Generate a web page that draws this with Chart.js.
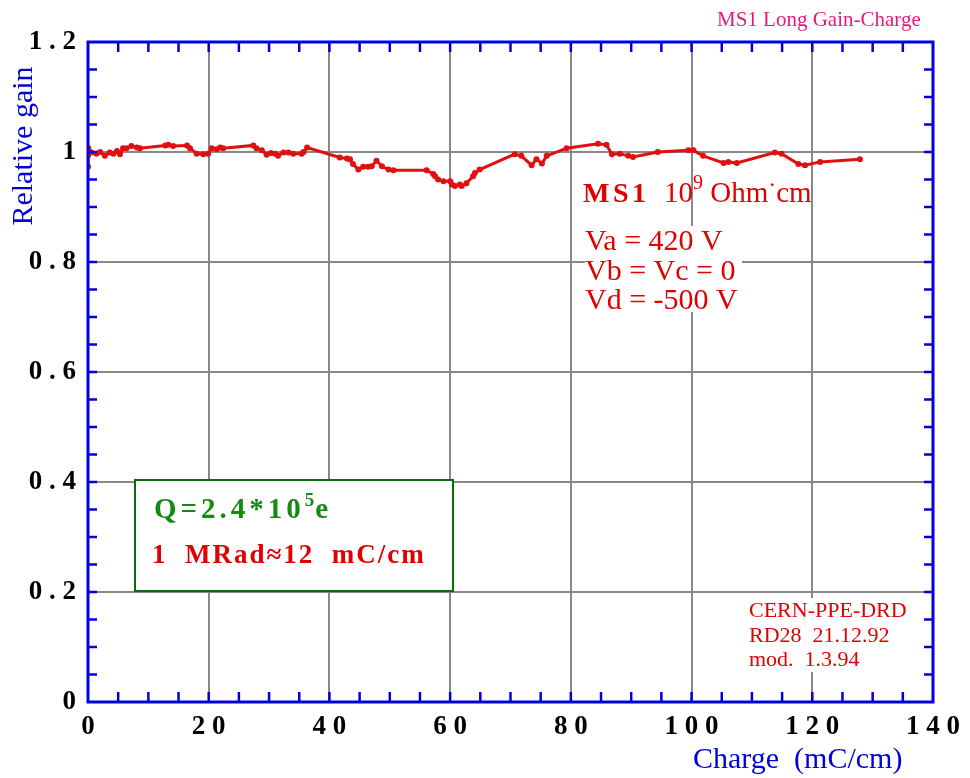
<!DOCTYPE html>
<html><head><meta charset="utf-8">
<script src="https://cdn.jsdelivr.net/npm/chart.js@4"></script>
<style>html,body{margin:0;padding:0;background:#fff}</style>
</head><body>
<canvas id="c" width="970" height="778"></canvas>
<script>
const charge = [0, 0, 0.05, 0.6, 1.4, 2.0, 2.8, 3.6, 4.2, 4.8, 5.3, 5.8, 6.4, 7.2, 8.1, 8.6, 12.8, 13.3, 14.1, 16.4, 16.9, 18.0, 19.1, 19.9, 20.5, 21.3, 21.9, 22.4, 27.4, 27.9, 28.8, 29.6, 30.3, 31.0, 31.5, 32.4, 33.2, 34.0, 35.4, 35.7, 36.3, 41.7, 42.9, 43.4, 43.9, 44.8, 45.6, 46.4, 47.0, 47.8, 48.7, 49.8, 50.6, 56.1, 57.2, 57.5, 58.0, 58.9, 60.0, 60.3, 60.8, 61.6, 61.9, 62.7, 63.8, 64.1, 64.9, 70.7, 71.8, 73.5, 74.3, 75.2, 76.0, 79.3, 84.5, 85.9, 86.8, 88.1, 89.5, 90.3, 94.4, 99.5, 100.3, 101.9, 105.3, 106.1, 107.5, 113.8, 114.9, 117.7, 118.8, 121.3, 127.9];
const gain = [0.973, 0.993, 1.007, 0.999, 0.997, 1.000, 0.993, 0.999, 0.997, 1.002, 0.996, 1.007, 1.007, 1.011, 1.008, 1.007, 1.012, 1.013, 1.011, 1.012, 1.007, 0.997, 0.996, 0.997, 1.007, 1.005, 1.008, 1.007, 1.012, 1.007, 1.003, 0.995, 0.998, 0.997, 0.993, 0.999, 0.999, 0.997, 0.997, 1.000, 1.008, 0.990, 0.988, 0.987, 0.978, 0.968, 0.973, 0.973, 0.974, 0.984, 0.974, 0.968, 0.967, 0.967, 0.960, 0.956, 0.950, 0.947, 0.947, 0.941, 0.938, 0.941, 0.938, 0.943, 0.956, 0.962, 0.968, 0.996, 0.993, 0.976, 0.987, 0.979, 0.993, 1.007, 1.015, 1.013, 0.996, 0.997, 0.993, 0.991, 1.000, 1.003, 1.003, 0.993, 0.980, 0.982, 0.980, 0.999, 0.997, 0.978, 0.976, 0.982, 0.987];
const xTickLabels = ["0", "2 0", "4 0", "6 0", "8 0", "1 0 0", "1 2 0", "1 4 0"];
const yTickLabels = ["0", "0 . 2", "0 . 4", "0 . 6", "0 . 8", "1", "1 . 2"];

const SERIF = '"Liberation Serif", "Times New Roman", serif';
const RED = '#e00000', BLUE = '#0000dd', GREEN = '#138a13';

function runs(ctx, x, y, parts) {
  for (const p of parts) {
    ctx.font = p[1];
    ctx.letterSpacing = (p[3] || 0) + 'px';
    ctx.fillText(p[0], x, y + (p[2] || 0));
    x += ctx.measureText(p[0]).width;
  }
  ctx.letterSpacing = '0px';
}

const decor = {
  id: 'decor',
  afterDraw(chart) {
    const ctx = chart.ctx, a = chart.chartArea;
    const xs = chart.scales.x, ys = chart.scales.y;
    ctx.save();
    ctx.textBaseline = 'alphabetic';
    ctx.textAlign = 'left';
    ctx.fillStyle = '#e8177f';
    ctx.font = '21px ' + SERIF;
    ctx.fillText('MS1 Long Gain-Charge', 717, 26);
    ctx.fillStyle = BLUE;
    ctx.font = '30px ' + SERIF;
    ctx.fillText('Charge  (mC/cm)', 693, 768);
    ctx.save();
    ctx.translate(32, 146);
    ctx.rotate(-Math.PI / 2);
    ctx.textAlign = 'center';
    ctx.fillText('Relative gain', 0, 0);
    ctx.restore();

    ctx.fillStyle = RED;
    runs(ctx, 583, 202, [['MS1', 'bold 28px ' + SERIF, 0, 3.5], ['  10', '29px ' + SERIF], ['9', '20px ' + SERIF, -13], [' Ohm', '29px ' + SERIF], ['\u00b7', '24px ' + SERIF, -10], ['cm', '29px ' + SERIF]]);
    ctx.fillStyle = '#fff';
    ctx.fillRect(585, 226, 157, 86);
    ctx.fillStyle = RED;
    ctx.font = '30px ' + SERIF;
    ctx.fillText('Va = 420 V', 585, 250);
    ctx.fillText('Vb = Vc = 0', 585, 280);
    ctx.fillText('Vd = -500 V', 585, 309);

    ctx.fillStyle = '#fff';
    ctx.fillRect(135, 480, 318, 111);
    ctx.strokeStyle = '#0d6b0d';
    ctx.lineWidth = 2;
    ctx.strokeRect(135, 480, 318, 111);
    ctx.fillStyle = GREEN;
    runs(ctx, 154, 518, [['Q=2.4*10', 'bold 29px ' + SERIF, 0, 4], ['5', 'bold 19px ' + SERIF, -12, 1], ['e', 'bold 29px ' + SERIF, 0, 2]]);
    ctx.fillStyle = RED;
    runs(ctx, 152, 563, [['1  MRad\u224812  mC/cm', 'bold 27px ' + SERIF, 0, 2]]);

    ctx.fillStyle = '#fff';
    ctx.fillRect(744, 598, 174, 74);
    ctx.fillStyle = RED;
    ctx.font = '22px ' + SERIF;
    ctx.fillText('CERN-PPE-DRD', 749, 617);
    ctx.fillText('RD28  21.12.92', 749, 642);
    ctx.fillText('mod.  1.3.94', 749, 666);

    ctx.strokeStyle = BLUE;
    ctx.lineWidth = 3;
    ctx.strokeRect(a.left, a.top, a.right - a.left, a.bottom - a.top);
    ctx.lineWidth = 2.5;
    ctx.beginPath();
    for (let v = 5; v < 140; v += 5) {
      const px = xs.getPixelForValue(v);
      ctx.moveTo(px, a.bottom); ctx.lineTo(px, a.bottom - 10);
      ctx.moveTo(px, a.top); ctx.lineTo(px, a.top + 10);
    }
    for (let i = 1; i < 24; i++) {
      const py = ys.getPixelForValue(i * 0.05);
      ctx.moveTo(a.left, py); ctx.lineTo(a.left + 9, py);
      ctx.moveTo(a.right, py); ctx.lineTo(a.right - 9, py);
    }
    ctx.stroke();
    ctx.restore();
  }
};

new Chart(document.getElementById('c'), {
  type: 'line',
  data: {
    datasets: [{
      data: charge.map((c, i) => ({ x: c, y: gain[i] })),
      borderColor: '#e01010',
      backgroundColor: '#e01010',
      borderWidth: 3,
      pointRadius: 3,
      pointBorderWidth: 0,
      pointBackgroundColor: '#e01010',
      tension: 0,
      fill: false
    }]
  },
  options: {
    responsive: false,
    animation: false,
    events: [],
    layout: { padding: { top: 42, right: 37, left: 0, bottom: 0 } },
    plugins: { legend: { display: false }, tooltip: { enabled: false } },
    scales: {
      x: {
        type: 'linear', min: 0, max: 140,
        afterFit(s) { s.height = 76; },
        grid: { color: '#888', lineWidth: 2, drawTicks: false },
        border: { display: false },
        ticks: {
          stepSize: 20, padding: 9, color: '#000', maxRotation: 0,
          font: { family: SERIF, weight: 'bold', size: 27 },
          callback: (v, i) => xTickLabels[i]
        }
      },
      y: {
        type: 'linear', min: 0, max: 1.2,
        afterFit(s) { s.width = 88; },
        grid: { color: '#888', lineWidth: 2, drawTicks: false },
        border: { display: false },
        ticks: {
          stepSize: 0.2, padding: 12, color: '#000',
          font: { family: SERIF, weight: 'bold', size: 27 },
          callback: (v, i) => yTickLabels[i]
        }
      }
    }
  },
  plugins: [decor]
});
</script>
</body></html>
